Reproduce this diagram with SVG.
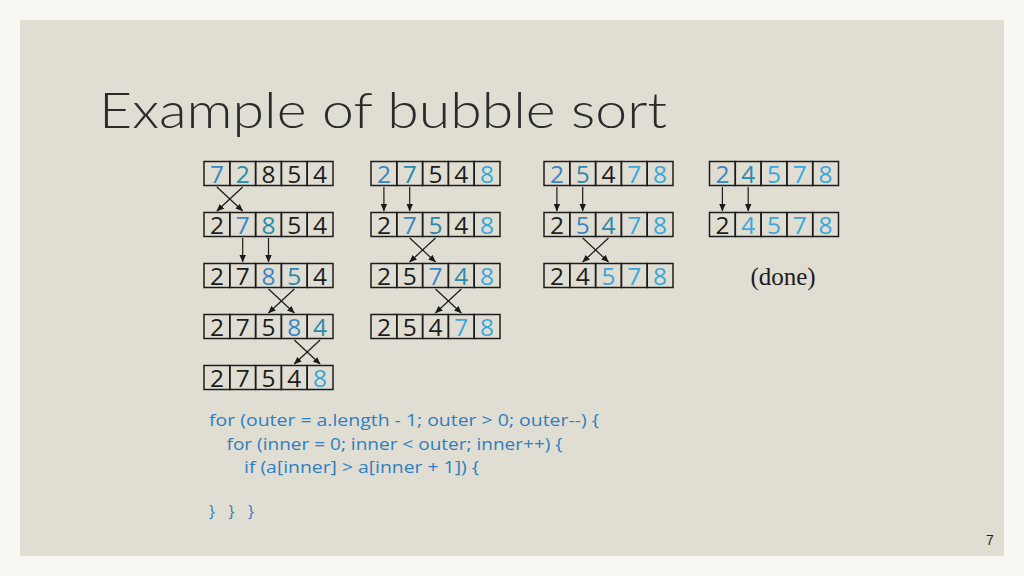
<svg xmlns="http://www.w3.org/2000/svg" width="1024" height="576" viewBox="0 0 1024 576">
<defs>
<marker id="ah" markerWidth="8" markerHeight="8" refX="7" refY="4" orient="auto" markerUnits="userSpaceOnUse">
<path d="M0,0.8 L7.5,4 L0,7.2 Z" fill="#1a1a1a"/>
</marker>
<style>
.c{fill:none;stroke:#1c1c1c;stroke-width:1.5}
.d{font-family:"Open Sans","DejaVu Sans",sans-serif;font-size:24.5px;text-anchor:middle;fill:#1c1c1c}
.b{fill:#3a85c6}
.t{fill:#2a8aaa}
.s{fill:#38a8dc}
.code{font-family:"Open Sans","DejaVu Sans",sans-serif;font-size:16px;fill:#2f7fbf}
.ln{stroke:#1a1a1a;stroke-width:1.2;fill:none;marker-end:url(#ah)}
</style>
</defs>
<rect x="0" y="0" width="1024" height="576" fill="#f7f6f3"/>
<rect x="20" y="20" width="984" height="536" fill="#e0ddd3"/>
<text x="99" y="128" font-family="Lato,'Open Sans',sans-serif" font-weight="300" font-size="50" fill="#2b2b2b" textLength="568" lengthAdjust="spacingAndGlyphs">Example of bubble sort</text>

<!-- Column 1 -->
<g id="c1r1">
<rect class="c" x="204" y="161.5" width="25.8" height="24"/><rect class="c" x="229.8" y="161.5" width="25.8" height="24"/><rect class="c" x="255.6" y="161.5" width="25.8" height="24"/><rect class="c" x="281.4" y="161.5" width="25.8" height="24"/><rect class="c" x="307.2" y="161.5" width="25.8" height="24"/>
<text class="d" y="182.5"><tspan x="216.9" class="b">7</tspan><tspan x="242.7" class="t">2</tspan><tspan x="268.5">8</tspan><tspan x="294.3">5</tspan><tspan x="320.1">4</tspan></text>
</g>
<g id="c1r2">
<rect class="c" x="204" y="212.5" width="25.8" height="24"/><rect class="c" x="229.8" y="212.5" width="25.8" height="24"/><rect class="c" x="255.6" y="212.5" width="25.8" height="24"/><rect class="c" x="281.4" y="212.5" width="25.8" height="24"/><rect class="c" x="307.2" y="212.5" width="25.8" height="24"/>
<text class="d" y="233.5"><tspan x="216.9">2</tspan><tspan x="242.7" class="b">7</tspan><tspan x="268.5" class="t">8</tspan><tspan x="294.3">5</tspan><tspan x="320.1">4</tspan></text>
</g>
<g id="c1r3">
<rect class="c" x="204" y="263.5" width="25.8" height="24"/><rect class="c" x="229.8" y="263.5" width="25.8" height="24"/><rect class="c" x="255.6" y="263.5" width="25.8" height="24"/><rect class="c" x="281.4" y="263.5" width="25.8" height="24"/><rect class="c" x="307.2" y="263.5" width="25.8" height="24"/>
<text class="d" y="284.5"><tspan x="216.9">2</tspan><tspan x="242.7">7</tspan><tspan x="268.5" class="b">8</tspan><tspan x="294.3" class="t">5</tspan><tspan x="320.1">4</tspan></text>
</g>
<g id="c1r4">
<rect class="c" x="204" y="314.5" width="25.8" height="24"/><rect class="c" x="229.8" y="314.5" width="25.8" height="24"/><rect class="c" x="255.6" y="314.5" width="25.8" height="24"/><rect class="c" x="281.4" y="314.5" width="25.8" height="24"/><rect class="c" x="307.2" y="314.5" width="25.8" height="24"/>
<text class="d" y="335.5"><tspan x="216.9">2</tspan><tspan x="242.7">7</tspan><tspan x="268.5">5</tspan><tspan x="294.3" class="b">8</tspan><tspan x="320.1" class="t">4</tspan></text>
</g>
<g id="c1r5">
<rect class="c" x="204" y="365.5" width="25.8" height="24"/><rect class="c" x="229.8" y="365.5" width="25.8" height="24"/><rect class="c" x="255.6" y="365.5" width="25.8" height="24"/><rect class="c" x="281.4" y="365.5" width="25.8" height="24"/><rect class="c" x="307.2" y="365.5" width="25.8" height="24"/>
<text class="d" y="386.5"><tspan x="216.9">2</tspan><tspan x="242.7">7</tspan><tspan x="268.5">5</tspan><tspan x="294.3">4</tspan><tspan x="320.1" class="s">8</tspan></text>
</g>

<!-- Column 2 -->
<g id="c2r1">
<rect class="c" x="371" y="161.5" width="25.8" height="24"/><rect class="c" x="396.8" y="161.5" width="25.8" height="24"/><rect class="c" x="422.6" y="161.5" width="25.8" height="24"/><rect class="c" x="448.4" y="161.5" width="25.8" height="24"/><rect class="c" x="474.2" y="161.5" width="25.8" height="24"/>
<text class="d" y="182.5"><tspan x="383.9" class="b">2</tspan><tspan x="409.7" class="t">7</tspan><tspan x="435.5">5</tspan><tspan x="461.3">4</tspan><tspan x="487.1" class="s">8</tspan></text>
</g>
<g id="c2r2">
<rect class="c" x="371" y="212.5" width="25.8" height="24"/><rect class="c" x="396.8" y="212.5" width="25.8" height="24"/><rect class="c" x="422.6" y="212.5" width="25.8" height="24"/><rect class="c" x="448.4" y="212.5" width="25.8" height="24"/><rect class="c" x="474.2" y="212.5" width="25.8" height="24"/>
<text class="d" y="233.5"><tspan x="383.9">2</tspan><tspan x="409.7" class="b">7</tspan><tspan x="435.5" class="t">5</tspan><tspan x="461.3">4</tspan><tspan x="487.1" class="s">8</tspan></text>
</g>
<g id="c2r3">
<rect class="c" x="371" y="263.5" width="25.8" height="24"/><rect class="c" x="396.8" y="263.5" width="25.8" height="24"/><rect class="c" x="422.6" y="263.5" width="25.8" height="24"/><rect class="c" x="448.4" y="263.5" width="25.8" height="24"/><rect class="c" x="474.2" y="263.5" width="25.8" height="24"/>
<text class="d" y="284.5"><tspan x="383.9">2</tspan><tspan x="409.7">5</tspan><tspan x="435.5" class="b">7</tspan><tspan x="461.3" class="t">4</tspan><tspan x="487.1" class="s">8</tspan></text>
</g>
<g id="c2r4">
<rect class="c" x="371" y="314.5" width="25.8" height="24"/><rect class="c" x="396.8" y="314.5" width="25.8" height="24"/><rect class="c" x="422.6" y="314.5" width="25.8" height="24"/><rect class="c" x="448.4" y="314.5" width="25.8" height="24"/><rect class="c" x="474.2" y="314.5" width="25.8" height="24"/>
<text class="d" y="335.5"><tspan x="383.9">2</tspan><tspan x="409.7">5</tspan><tspan x="435.5">4</tspan><tspan x="461.3" class="s">7</tspan><tspan x="487.1" class="s">8</tspan></text>
</g>

<!-- Column 3 -->
<g id="c3r1">
<rect class="c" x="544" y="161.5" width="25.8" height="24"/><rect class="c" x="569.8" y="161.5" width="25.8" height="24"/><rect class="c" x="595.6" y="161.5" width="25.8" height="24"/><rect class="c" x="621.4" y="161.5" width="25.8" height="24"/><rect class="c" x="647.2" y="161.5" width="25.8" height="24"/>
<text class="d" y="182.5"><tspan x="556.9" class="b">2</tspan><tspan x="582.7" class="t">5</tspan><tspan x="608.5">4</tspan><tspan x="634.3" class="s">7</tspan><tspan x="660.1" class="s">8</tspan></text>
</g>
<g id="c3r2">
<rect class="c" x="544" y="212.5" width="25.8" height="24"/><rect class="c" x="569.8" y="212.5" width="25.8" height="24"/><rect class="c" x="595.6" y="212.5" width="25.8" height="24"/><rect class="c" x="621.4" y="212.5" width="25.8" height="24"/><rect class="c" x="647.2" y="212.5" width="25.8" height="24"/>
<text class="d" y="233.5"><tspan x="556.9">2</tspan><tspan x="582.7" class="b">5</tspan><tspan x="608.5" class="t">4</tspan><tspan x="634.3" class="s">7</tspan><tspan x="660.1" class="s">8</tspan></text>
</g>
<g id="c3r3">
<rect class="c" x="544" y="263.5" width="25.8" height="24"/><rect class="c" x="569.8" y="263.5" width="25.8" height="24"/><rect class="c" x="595.6" y="263.5" width="25.8" height="24"/><rect class="c" x="621.4" y="263.5" width="25.8" height="24"/><rect class="c" x="647.2" y="263.5" width="25.8" height="24"/>
<text class="d" y="284.5"><tspan x="556.9">2</tspan><tspan x="582.7">4</tspan><tspan x="608.5" class="s">5</tspan><tspan x="634.3" class="s">7</tspan><tspan x="660.1" class="s">8</tspan></text>
</g>

<!-- Column 4 -->
<g id="c4r1">
<rect class="c" x="709.5" y="161.5" width="25.8" height="24"/><rect class="c" x="735.3" y="161.5" width="25.8" height="24"/><rect class="c" x="761.1" y="161.5" width="25.8" height="24"/><rect class="c" x="786.9" y="161.5" width="25.8" height="24"/><rect class="c" x="812.7" y="161.5" width="25.8" height="24"/>
<text class="d" y="182.5"><tspan x="722.4" class="b">2</tspan><tspan x="748.2" class="t">4</tspan><tspan x="774" class="s">5</tspan><tspan x="799.8" class="s">7</tspan><tspan x="825.6" class="s">8</tspan></text>
</g>
<g id="c4r2">
<rect class="c" x="709.5" y="212.5" width="25.8" height="24"/><rect class="c" x="735.3" y="212.5" width="25.8" height="24"/><rect class="c" x="761.1" y="212.5" width="25.8" height="24"/><rect class="c" x="786.9" y="212.5" width="25.8" height="24"/><rect class="c" x="812.7" y="212.5" width="25.8" height="24"/>
<text class="d" y="233.5"><tspan x="722.4">2</tspan><tspan x="748.2" class="s">4</tspan><tspan x="774" class="s">5</tspan><tspan x="799.8" class="s">7</tspan><tspan x="825.6" class="s">8</tspan></text>
</g>
<g id="done">
<text x="783" y="285" font-family="'Liberation Serif',serif" font-size="25" text-anchor="middle" fill="#1c1c1c">(done)</text>
</g>

<g id="connectors">
<line class="ln" x1="216.9" y1="187" x2="242.7" y2="211"/><line class="ln" x1="242.7" y1="187" x2="216.9" y2="211"/>
<line class="ln" x1="242.7" y1="238" x2="242.7" y2="262"/><line class="ln" x1="268.5" y1="238" x2="268.5" y2="262"/>
<line class="ln" x1="268.5" y1="289" x2="294.3" y2="313"/><line class="ln" x1="294.3" y1="289" x2="268.5" y2="313"/>
<line class="ln" x1="294.3" y1="340" x2="320.1" y2="364"/><line class="ln" x1="320.1" y1="340" x2="294.3" y2="364"/>
<line class="ln" x1="383.9" y1="187" x2="383.9" y2="211"/><line class="ln" x1="409.7" y1="187" x2="409.7" y2="211"/>
<line class="ln" x1="409.7" y1="238" x2="435.5" y2="262"/><line class="ln" x1="435.5" y1="238" x2="409.7" y2="262"/>
<line class="ln" x1="435.5" y1="289" x2="461.3" y2="313"/><line class="ln" x1="461.3" y1="289" x2="435.5" y2="313"/>
<line class="ln" x1="556.9" y1="187" x2="556.9" y2="211"/><line class="ln" x1="582.7" y1="187" x2="582.7" y2="211"/>
<line class="ln" x1="582.7" y1="238" x2="608.5" y2="262"/><line class="ln" x1="608.5" y1="238" x2="582.7" y2="262"/>
<line class="ln" x1="722.4" y1="187" x2="722.4" y2="211"/><line class="ln" x1="748.2" y1="187" x2="748.2" y2="211"/>
</g>

<g id="code">
<text class="code" x="209" y="426" textLength="390" lengthAdjust="spacingAndGlyphs">for (outer = a.length - 1; outer &gt; 0; outer--) {</text>
<text class="code" x="226.5" y="449.5" textLength="336" lengthAdjust="spacingAndGlyphs">for (inner = 0; inner &lt; outer; inner++) {</text>
<text class="code" x="244" y="472.5" textLength="235" lengthAdjust="spacingAndGlyphs">if (a[inner] &gt; a[inner + 1]) {</text>
<text class="code" x="209" y="517" textLength="45" lengthAdjust="spacing">} } }</text>
</g>
<text x="990" y="545" font-family="'Liberation Sans',Arial,sans-serif" font-size="14" text-anchor="middle" fill="#222">7</text>
</svg>
